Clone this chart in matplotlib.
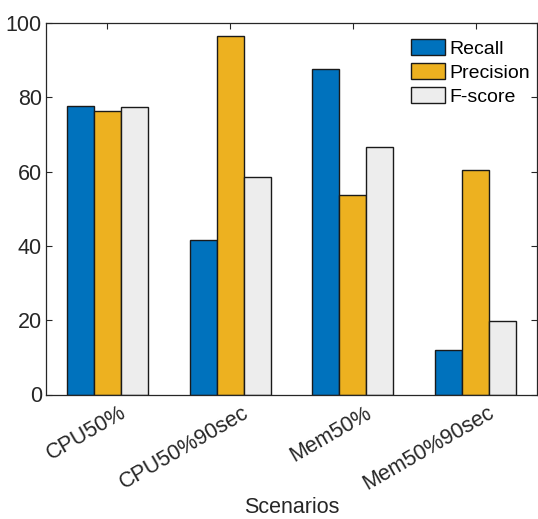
import numpy as np
import matplotlib
matplotlib.use("Agg")
import matplotlib.pyplot as plt
from matplotlib.transforms import ScaledTranslation, blended_transform_factory

categories = ["CPU50%", "CPU50%90sec", "Mem50%", "Mem50%90sec"]
recall = [77.7, 41.6, 87.5, 12.0]
precision = [76.4, 96.6, 53.8, 60.3]
fscore = [77.4, 58.5, 66.7, 19.9]
series_names = ["Recall", "Precision", "F-score"]
colors = ["#0072BD", "#EDB120", "#EDEDED"]
yticks = [0, 20, 40, 60, 80, 100]

plt.rcParams['font.family'] = ['Liberation Sans', 'DejaVu Sans']
axc = "#262626"

fig = plt.figure(figsize=(5.38, 5.19), dpi=100)
ax = fig.add_axes([46/538, 1-394.5/519, (537-46)/538, (394.5-23)/519])

x = np.arange(1, len(categories)+1)
w = 0.22
for i, (vals, name, c) in enumerate(zip([recall, precision, fscore], series_names, colors)):
    ax.bar(x + (i-1)*w, vals, width=w, color=c, edgecolor="#1a1a1a", linewidth=1.0, label=name, zorder=2)

ax.set_xlim(0.5, 4.5)
ax.set_ylim(0, 100)
ax.set_yticks(yticks)
ax.set_xticks(x)
ax.set_xticklabels([])
trans = blended_transform_factory(ax.transData, ax.transAxes) + ScaledTranslation(12/100, -8/100, fig.dpi_scale_trans)
for xi, lab in zip(x, categories):
    ax.text(xi, 0, lab, transform=trans, rotation=30, ha='right', va='top', rotation_mode='anchor',
            fontsize=15.5, color=axc, clip_on=False)
ax.tick_params(direction='in', length=4, width=0.8, top=True, right=True, labelsize=15.5, colors=axc, pad=3)
for s in ax.spines.values():
    s.set_linewidth(0.9)
    s.set_color(axc)
ax.set_xlabel("Scenarios", fontsize=15.5, color=axc)
ax.xaxis.set_label_coords(0.5, -0.275)

leg = ax.legend(loc='upper left', bbox_to_anchor=(411/538, 1-39/519), bbox_transform=fig.transFigure,
                frameon=False, fontsize=14, handlelength=1.75, handleheight=0.91,
                labelspacing=0.27, handletextpad=0.2, borderpad=0, borderaxespad=0)
for t in leg.get_texts():
    t.set_color("black")

fig.savefig("out.png", dpi=100)
